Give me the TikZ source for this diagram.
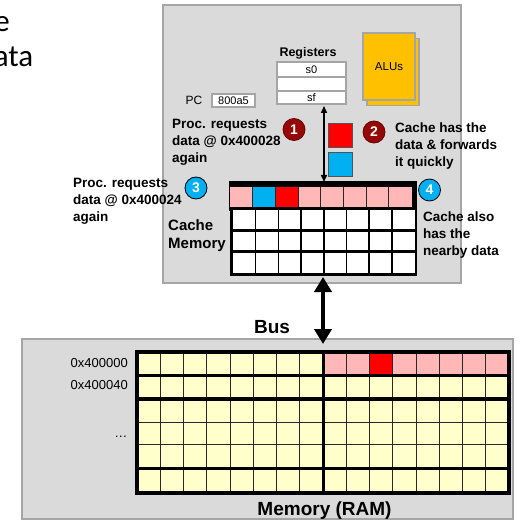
\documentclass[tikz,border=0pt]{standalone}
\usepackage{fontspec}
\setmainfont{Liberation Sans}
\newfontfamily\calib{Carlito}
\usetikzlibrary{arrows.meta}
\definecolor{boxgray}{RGB}{218,218,218}
\definecolor{edgegray}{RGB}{165,165,165}
\definecolor{pinkc}{RGB}{255,183,183}
\definecolor{bluec}{RGB}{0,176,240}
\definecolor{redc}{RGB}{255,0,0}
\definecolor{darkred}{RGB}{150,8,8}
\definecolor{darkredline}{RGB}{100,0,0}
\definecolor{memy}{RGB}{255,255,204}
\definecolor{aluc}{RGB}{255,192,0}
\definecolor{cellline}{RGB}{40,40,40}
\begin{document}
\begin{tikzpicture}[x=1pt,y=-1pt,
  outerbox/.style={draw=edgegray, line width=2.5pt, fill=boxgray},
  lbl/.style={inner sep=0pt, font=\bfseries\fontsize{13.5}{16.8}\selectfont, align=left, anchor=north west},
  regbox/.style={draw=edgegray, line width=1.8pt, fill=white, minimum width=69pt, inner sep=0pt, font=\fontsize{11}{12}\selectfont},
  alubox/.style={draw=edgegray, line width=1.8pt, fill=aluc, minimum width=52pt, minimum height=67pt, inner sep=0pt, font=\fontsize{11.5}{12}\selectfont},
  numred/.style={circle, draw=darkredline, line width=0.8pt, fill=darkred, minimum size=22pt, inner sep=0pt, font=\bfseries\fontsize{14}{14}\selectfont, text=white},
  numblue/.style={circle, draw=black, line width=0.8pt, fill=bluec, minimum size=22pt, inner sep=0pt, font=\bfseries\fontsize{14}{14}\selectfont, text=white},
  datasq/.style={draw=cellline!80, line width=0.8pt, minimum size=24pt, inner sep=0pt},
  thin/.style={cellline, line width=1pt},
  thick/.style={black, line width=3.5pt},
  addr/.style={inner sep=0pt, anchor=base east, font=\fontsize{13}{14}\selectfont}
]
\useasboundingbox (0,0) rectangle (520,521);

% cut slide text
\node[inner sep=0pt, anchor=base east, font=\calib\fontsize{31}{35}\selectfont] (slideA) at (10,32) {e};
\node[inner sep=0pt, anchor=base east, font=\calib\fontsize{31}{35}\selectfont] (slideB) at (33.5,67) {ata};

% CPU box
\draw[outerbox] (163,5) rectangle (461,283);
% Memory box
\draw[outerbox] (22,339) rectangle (513,519);

% Registers
\node[inner sep=0pt, anchor=base, font=\bfseries\fontsize{12.5}{13}\selectfont] (reglbl) at (308,57) {Registers};
\node[regbox, minimum height=15pt] (reg0) at (311.5,69.5) {s0};
\node[regbox, minimum height=14pt] (reg1) at (311.5,84) {};
\node[regbox, minimum height=13pt] (regf) at (311.5,97.5) {sf};

% ALUs
\node[alubox] (aluback) at (393,72) {};
\node[alubox] (alu) at (389,66.5) {ALUs};

% PC
\node[inner sep=0pt, font=\fontsize{12}{13}\selectfont] (pclbl) at (194,100.5) {PC};
\node[draw=edgegray, line width=1.8pt, fill=white, minimum width=43pt, minimum height=13pt, inner sep=0pt, font=\fontsize{11}{12}\selectfont] (pc) at (233.5,100.5) {800a5};

% Cache grid
\fill[black] (229,181.5) rectangle (417,211);
\foreach \i in {0,...,7} {
  \fill[pinkc] (230+\i*22.71,187) rectangle (230+\i*22.71+22.71,207.5);
}
\fill[bluec] (252.71,187) rectangle (275.42,207.5);
\fill[redc] (275.42,187) rectangle (298.13,207.5);
\foreach \i in {1,...,7} {
  \draw[thin] (230+\i*22.71,187) -- (230+\i*22.71,207.5);
}
\fill[black] (230,207) rectangle (417,276);
\foreach \ya/\yb in {210/228.5, 231.5/250, 253/273} {
  \fill[white] (233,\ya) rectangle (414.5,\yb);
}
\foreach \i in {1,...,7} {
  \draw[black, line width=1.5pt] (233+\i*22.69,209) -- (233+\i*22.69,274);
}
\coordinate (cachetop) at (324,182);
\coordinate (cachebot) at (323,277);
\coordinate (regbot) at (324,106);

% Cache label
\node[lbl, font=\bfseries\fontsize{15}{18}\selectfont] (cachelbl) at (168,219) {Cache\\Memory};

% Data squares
\node[datasq, fill=redc] (redsq) at (340,135.5) {};
\node[datasq, fill=bluec] (bluesq) at (340,164.5) {};

% register-cache arrow
\draw[line width=1.5pt, {Triangle[length=7pt,width=6pt]}-{Triangle[length=7pt,width=6pt]}] (regbot) -- (cachetop);

% step circles
\node[numred] (c1) at (294,129.5) {1};
\node[numred] (c2) at (374,132) {2};
\node[numblue] (c3) at (196,188) {3};
\node[numblue] (c4) at (429.5,190) {4};

% texts
\node[lbl] (t1) at (172,119) {Proc. requests\\data @ 0x400028\\again};
\node[lbl] (t2) at (73,178) {Proc. requests\\data @ 0x400024\\again};
\node[lbl] (t3) at (395,123) {Cache has the\\data \& forwards\\it quickly};
\node[lbl] (t4) at (423,212) {Cache also\\has the\\nearby data};

% Memory grid
\fill[memy] (137,352) rectangle (509,493);
\foreach \i in {8,...,15} {
  \fill[pinkc] (137+\i*23.25,352) rectangle (137+\i*23.25+23.25,375.5);
}
\fill[redc] (137+10*23.25,352) rectangle (137+11*23.25,375.5);
\foreach \i in {1,...,15} {
  \draw[thin] (137+\i*23.25,352) -- (137+\i*23.25,493);
}
\draw[thin] (137,422) -- (509,422);
\draw[thin] (137,444.5) -- (509,444.5);
\draw[thick] (137,375.5) -- (509,375.5);
\draw[thick] (137,399) -- (509,399);
\draw[thick] (137,468.5) -- (509,468.5);
\draw[thick] (323.3,352) -- (323.3,493);
\draw[thick] (137,352) rectangle (509,493);
\coordinate (memtop) at (323,344);

% address labels
\node[addr] (a0) at (128,367.5) {0x400000};
\node[addr] (a1) at (128,389.5) {0x400040};
\node[addr] (a2) at (127.5,437.5) {…};

% Bus
\draw[line width=4pt, {Triangle[length=15pt,width=17pt]}-{Triangle[length=15pt,width=17pt]}] (cachebot) -- (memtop);
\node[inner sep=0pt, anchor=base, font=\bfseries\fontsize{19}{20}\selectfont] (buslbl) at (272,333) {Bus};

\node[inner sep=0pt, anchor=base, font=\bfseries\fontsize{19}{20}\selectfont] (memlbl) at (324.5,515) {Memory (RAM)};
\end{tikzpicture}
\end{document}
